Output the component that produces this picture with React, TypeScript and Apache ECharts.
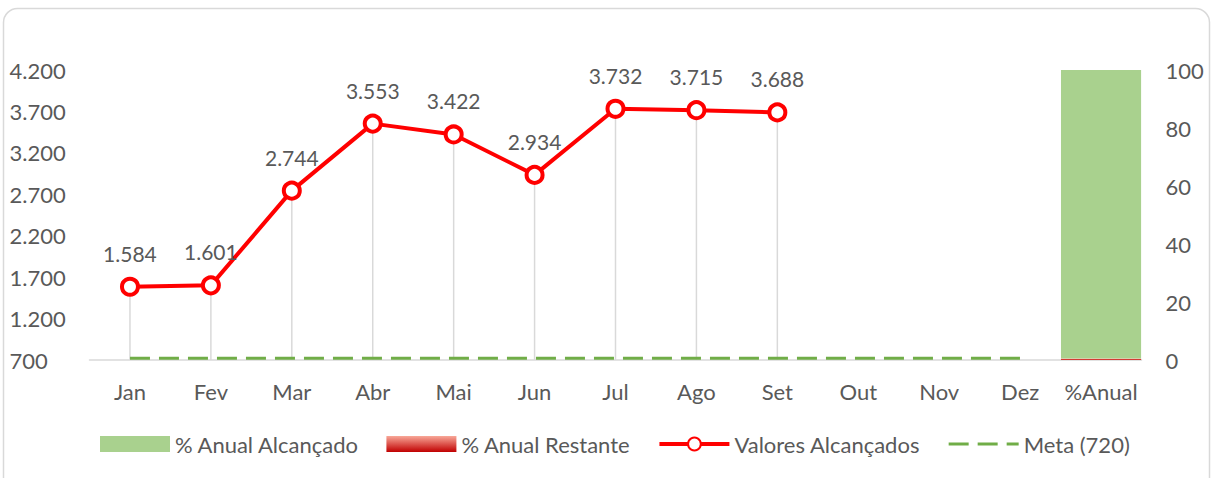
import React, { useEffect, useRef } from "react";
import * as echarts from "echarts";

const categories = ["Jan", "Fev", "Mar", "Abr", "Mai", "Jun", "Jul", "Ago", "Set", "Out", "Nov", "Dez", "%Anual"];
const valores: (number | null)[] = [1584, 1601, 2744, 3553, 3422, 2934, 3732, 3715, 3688, null, null, null, null];
const meta: (number | null)[] = [720, 720, 720, 720, 720, 720, 720, 720, 720, 720, 720, 720, null];
const pctAlcancado: (number | null)[] = [null, null, null, null, null, null, null, null, null, null, null, null, 100];
const pctRestante: (number | null)[] = [null, null, null, null, null, null, null, null, null, null, null, null, 0.5];
const leftMin = 700;
const leftMax = 4200;
const leftInterval = 500;
const rightMin = 0;
const rightMax = 100;
const rightInterval = 20;

const FONT = "Lato, 'Noto Sans', sans-serif";
const TEXT = "#595959";

function fmt(v: number): string {
  return String(Math.round(v)).replace(/\B(?=(\d{3})+(?!\d))/g, ".");
}

export default function App() {
  const ref = useRef<HTMLDivElement>(null);
  useEffect(() => {
    document.body.style.margin = "0";
    const chart = echarts.init(ref.current!, null, { renderer: "svg" });
    chart.setOption({
      animation: false,
      textStyle: { fontFamily: FONT },
      graphic: [
        {
          type: "rect",
          shape: { x: 3.5, y: 8.5, width: 1206, height: 520, r: 14 },
          style: { fill: "none", stroke: "#d9d9d9", lineWidth: 1.5 },
          silent: true,
          z: -10,
        },
      ],
      grid: { left: 89.5, right: 71.5, top: 70, bottom: 118, containLabel: false },
      legend: {
        bottom: 18,
        left: 95,
        itemWidth: 70,
        itemHeight: 16,
        itemGap: 27,
        textStyle: { color: TEXT, fontSize: 22, fontFamily: FONT },
        data: [
          { name: "% Anual Alcançado", icon: "rect" },
          { name: "% Anual Restante", icon: "rect" },
          { name: "Valores Alcançados", lineStyle: { width: 4 } },
          { name: "Meta (720)", lineStyle: { width: 3 }, itemStyle: { opacity: 0 } },
        ],
      },
      xAxis: {
        type: "category",
        data: categories,
        axisLine: { lineStyle: { color: "#d9d9d9", width: 1.5 } },
        axisTick: { show: false },
        axisLabel: { color: TEXT, fontSize: 22, margin: 20, interval: 0, fontFamily: FONT },
      },
      yAxis: [
        {
          type: "value",
          min: leftMin,
          max: leftMax,
          interval: leftInterval,
          splitLine: { show: false },
          axisLine: { show: false },
          axisTick: { show: false },
          axisLabel: {
            color: TEXT,
            fontSize: 22,
            align: "left",
            margin: 80,
            fontFamily: FONT,
            formatter: (v: number) => fmt(v),
          },
        },
        {
          type: "value",
          min: rightMin,
          max: rightMax,
          interval: rightInterval,
          position: "right",
          splitLine: { show: false },
          axisLine: { show: false },
          axisTick: { show: false },
          axisLabel: { color: TEXT, fontSize: 22, margin: 24, fontFamily: FONT },
        },
      ],
      series: [
        {
          name: "% Anual Restante",
          type: "bar",
          yAxisIndex: 1,
          stack: "pct",
          barWidth: "99%",
          data: pctRestante,
          itemStyle: {
            color: new echarts.graphic.LinearGradient(0, 0, 0, 1, [
              { offset: 0, color: "#F8A898" },
              { offset: 1, color: "#C00000" },
            ]),
          },
        },
        {
          name: "% Anual Alcançado",
          type: "bar",
          yAxisIndex: 1,
          stack: "pct",
          barWidth: "99%",
          data: pctAlcancado,
          itemStyle: { color: "#A9D18E" },
        },
        {
          name: "drops",
          type: "custom",
          yAxisIndex: 0,
          z: 1,
          silent: true,
          data: valores.map((v, i) => (v == null ? null : [i, v])).filter((d) => d != null),
          renderItem: (params: any, api: any) => {
            const top = api.coord([api.value(0), api.value(1)]);
            const bot = api.coord([api.value(0), leftMin]);
            return {
              type: "line",
              shape: { x1: top[0], y1: top[1], x2: bot[0], y2: bot[1] },
              style: { stroke: "#d9d9d9", lineWidth: 1.5 },
            };
          },
        },
        {
          name: "Meta (720)",
          type: "line",
          yAxisIndex: 0,
          data: meta,
          symbol: "none",
          z: 3,
          lineStyle: { color: "#70AD47", width: 3, type: [20, 9] },
          itemStyle: { color: "#70AD47" },
        },
        {
          name: "Valores Alcançados",
          type: "line",
          yAxisIndex: 0,
          data: valores,
          symbol: "circle",
          symbolSize: 16,
          z: 5,
          lineStyle: { color: "#FF0000", width: 4 },
          itemStyle: { color: "#FFFFFF", borderColor: "#FF0000", borderWidth: 4 },
          label: {
            show: true,
            position: "top",
            distance: 13,
            color: TEXT,
            fontSize: 21,
            fontFamily: FONT,
            formatter: (p: any) => fmt(p.value),
          },
        },
      ],
    });
    return () => chart.dispose();
  }, []);
  return <div ref={ref} style={{ width: 1213, height: 478 }} />;
}
